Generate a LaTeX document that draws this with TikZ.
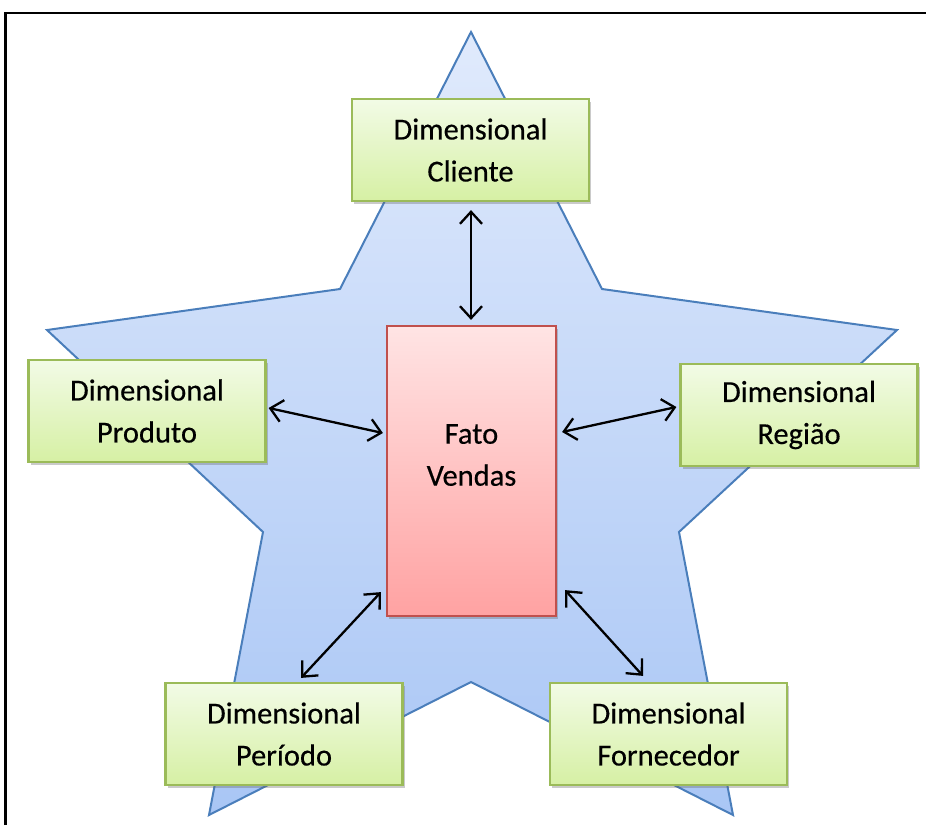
\documentclass[tikz,border=0pt]{standalone}
\usepackage{fontspec}
\setmainfont{Carlito}[FakeBold=0.4]
\usetikzlibrary{arrows.meta,shadows,calc}
\definecolor{starline}{HTML}{4A7EBB}
\definecolor{startop}{HTML}{E0EAFC}
\definecolor{starbot}{HTML}{A9C6F5}
\definecolor{greenline}{HTML}{9BBB59}
\definecolor{greentop}{HTML}{F2FBE6}
\definecolor{greenbot}{HTML}{D6F0A4}
\definecolor{redline}{HTML}{C0504D}
\definecolor{redtop}{HTML}{FFE4E4}
\definecolor{redbot}{HTML}{FFA2A2}
\tikzset{
  dimbox/.style={draw=greenline, line width=2.2pt, top color=greentop, bottom color=greenbot,
    minimum width=237pt, minimum height=102pt, inner sep=0pt, align=center,
    font=\fontsize{30.5}{42}\selectfont,
    drop shadow={shadow xshift=2pt, shadow yshift=-3pt, opacity=0.35, fill=black!60}},
  factbox/.style={draw=redline, line width=2.2pt, top color=redtop, bottom color=redbot,
    minimum width=169pt, minimum height=290pt, inner sep=0pt,
    drop shadow={shadow xshift=2pt, shadow yshift=-3pt, opacity=0.35, fill=black!60}},
  link/.style={line width=2.3pt, {Straight Barb[length=12pt,width=22pt]}-{Straight Barb[length=12pt,width=22pt]}},
}
\begin{document}
\begin{tikzpicture}[x=1pt,y=-1pt]
\useasboundingbox (0,0) rectangle (926,825);
% frame (top and left edges)
\draw[line width=2.5pt] (5.5,825) -- (5.5,13) -- (926,13);
% star
\draw[starline, line width=2pt, top color=startop, bottom color=starbot]
  (471,32) -- (602,289) -- (897,330) -- (679,532) -- (733,815) -- (471,682)
  -- (209,815) -- (263,532) -- (47,330) -- (340,289) -- cycle;
% boxes
\node[dimbox] (cli)  at (470.5,150) {Dimensional\\Cliente};
\node[dimbox] (prod) at (147,411)   {Dimensional\\Produto};
\node[dimbox] (reg)  at (799,415)   {Dimensional\\Região};
\node[dimbox] (per)  at (284,734)   {Dimensional\\Período};
\node[dimbox] (forn) at (668.5,734) {Dimensional\\Fornecedor};
\node[factbox] (fato) at (471.5,471) {};
\node[align=center, font=\fontsize{30.5}{42}\selectfont] (fatotxt) at (471.5,455) {Fato\\Vendas};
% connectors
\draw[link] ($(cli.south)+(0.5,8)$) -- ($(fato.north)+(-0.5,-5)$);
\draw[link] ($(prod.east)+(2,-3)$) -- ($(fato.west)+(-3,-38)$);
\draw[link] ($(fato.east)+(5,-39)$) -- ($(reg.west)+(-3,-8)$);
\draw[link] ($(per.north)+(17,-4)$) -- ($(fato.south west)+(-5,-25)$);
\draw[link] ($(fato.south east)+(8,-27)$) -- ($(forn.north)+(-25.5,-6)$);
\end{tikzpicture}
\end{document}
